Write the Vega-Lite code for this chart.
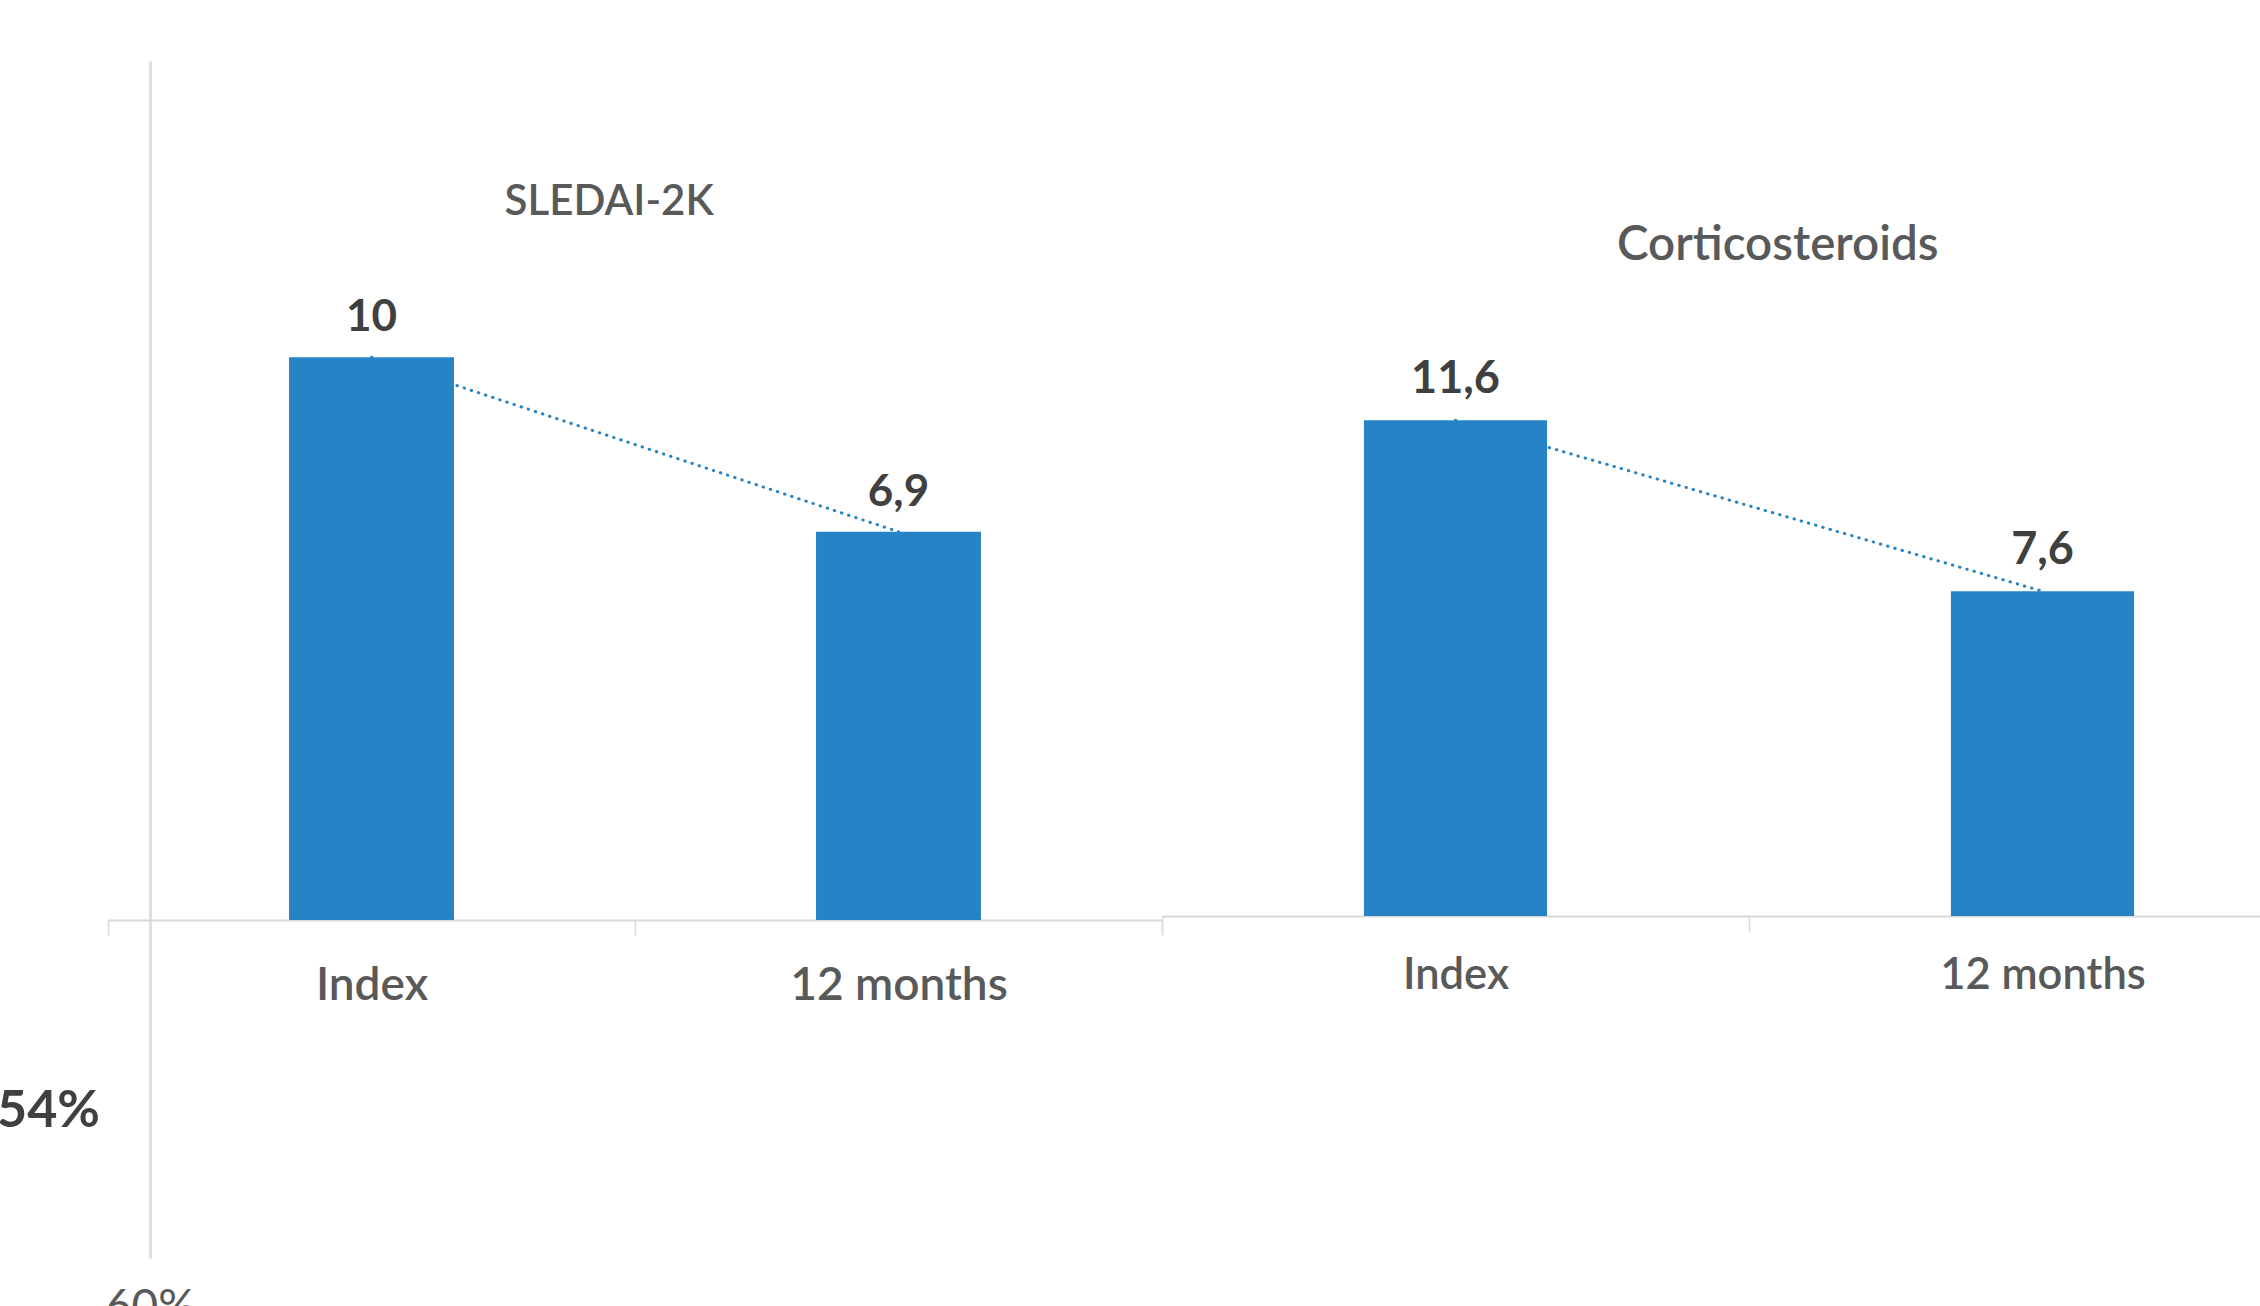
{
  "$schema": "https://vega.github.io/schema/vega-lite/v6.json",
  "autosize": {"type": "none"},
  "padding": {"left": 108, "top": 61, "right": 2152, "bottom": 1245},
  "background": "white",
  "spacing": 0,
  "bounds": "flush",
  "config": {
    "view": {"stroke": null},
    "font": "Lato",
    "locale": {
      "number": {"decimal": ",", "thousands": ".", "grouping": [3], "currency": ["", " €"]}
    }
  },
  "hconcat": [
    {
      "width": 1054,
      "height": 1197,
      "data": {"values": [
        {"measure": "SLEDAI-2K", "time": "Index", "value": 10},
        {"measure": "SLEDAI-2K", "time": "12 months", "value": 6.9}
      ]},
      "encoding": {
        "x": {
          "field": "time", "type": "nominal", "sort": ["Index", "12 months"],
          "scale": {"domain": ["Index", "12 months"], "paddingInner": 0, "paddingOuter": 0},
          "axis": {
            "title": null, "grid": false, "labelAngle": 0, "labelLimit": 0,
            "domainColor": "#d9d9d9", "domainWidth": 2,
            "tickColor": "#d9d9d9", "tickWidth": 1.5, "tickSize": 15, "tickBand": "extent",
            "labelFont": "Lato", "labelFontSize": 46, "labelFontWeight": 600, "labelColor": "#595959",
            "labelBaseline": "alphabetic", "labelPadding": 64, "offset": -338
          }
        },
        "y": {
          "field": "value", "type": "quantitative",
          "scale": {"domain": [-6.007, 15.266], "nice": false, "zero": false},
          "axis": {
            "title": null, "labels": false, "ticks": false, "grid": false,
            "domainColor": "#d9d9d9", "domainWidth": 2.5, "offset": -42
          }
        }
      },
      "layer": [
        {"mark": {"type": "line", "color": "#2683C6", "strokeWidth": 3, "strokeDash": [0.5, 7], "strokeCap": "round"}},
        {"mark": {"type": "bar", "color": "#2683C6", "width": {"band": 0.313}}},
        {
          "mark": {"type": "text", "baseline": "alphabetic", "dy": -26, "font": "Lato", "fontSize": 44, "fontWeight": "bold", "color": "#404040"},
          "encoding": {"text": {"field": "value", "type": "quantitative", "format": "~g"}}
        },
        {
          "transform": [{"filter": "datum.time === 'Index'"}],
          "mark": {"type": "text", "text": "SLEDAI-2K", "baseline": "alphabetic", "align": "center", "font": "Lato", "fontSize": 42, "fontWeight": 600, "color": "#595959"},
          "encoding": {"x": {"datum": "Index", "type": "nominal", "bandPosition": 0.951}, "y": {"datum": 12.53, "type": "quantitative"}}
        },
        {
          "transform": [{"filter": "datum.time === 'Index'"}],
          "mark": {"type": "text", "text": "54%", "baseline": "alphabetic", "align": "right", "font": "Lato", "fontSize": 52, "fontWeight": "bold", "color": "#404040"},
          "encoding": {"x": {"datum": "Index", "type": "nominal", "bandPosition": -0.0152}, "y": {"datum": -3.68, "type": "quantitative"}}
        },
        {
          "transform": [{"filter": "datum.time === 'Index'"}],
          "mark": {"type": "text", "text": "60%", "baseline": "alphabetic", "align": "center", "font": "Lato", "fontSize": 46, "fontWeight": "normal", "color": "#595959"},
          "encoding": {"x": {"datum": "Index", "type": "nominal", "bandPosition": 0.0797}, "y": {"datum": -7.14, "type": "quantitative"}}
        }
      ]
    },
    {
      "width": 1174,
      "height": 1197,
      "data": {"values": [
        {"measure": "Corticosteroids", "time": "Index", "value": 11.6},
        {"measure": "Corticosteroids", "time": "12 months", "value": 7.6}
      ]},
      "encoding": {
        "x": {
          "field": "time", "type": "nominal", "sort": ["Index", "12 months"],
          "scale": {"domain": ["Index", "12 months"], "paddingInner": 0, "paddingOuter": 0},
          "axis": {
            "title": null, "grid": false, "labelAngle": 0, "labelLimit": 0,
            "domainColor": "#d9d9d9", "domainWidth": 2,
            "tickColor": "#d9d9d9", "tickWidth": 1.5, "tickSize": 15, "tickBand": "extent",
            "labelFont": "Lato", "labelFontSize": 43.5, "labelFontWeight": 600, "labelColor": "#595959",
            "labelBaseline": "alphabetic", "labelPadding": 57, "offset": -342
          }
        },
        "y": {
          "field": "value", "type": "quantitative",
          "scale": {"domain": [-8.004, 20.009], "nice": false, "zero": false},
          "axis": null
        }
      },
      "layer": [
        {"mark": {"type": "line", "color": "#2683C6", "strokeWidth": 3, "strokeDash": [0.5, 7], "strokeCap": "round"}},
        {"mark": {"type": "bar", "color": "#2683C6", "width": {"band": 0.312}}},
        {
          "mark": {"type": "text", "baseline": "alphabetic", "dy": -27, "font": "Lato", "fontSize": 45, "fontWeight": "bold", "color": "#404040"},
          "encoding": {"text": {"field": "value", "type": "quantitative", "format": "~g"}}
        },
        {
          "transform": [{"filter": "datum.time === 'Index'"}],
          "mark": {"type": "text", "text": "Corticosteroids", "baseline": "alphabetic", "align": "center", "font": "Lato", "fontSize": 47.5, "fontWeight": 600, "color": "#595959"},
          "encoding": {"x": {"datum": "12 months", "type": "nominal", "bandPosition": 0.049}, "y": {"datum": 15.35, "type": "quantitative"}}
        }
      ]
    }
  ]
}
